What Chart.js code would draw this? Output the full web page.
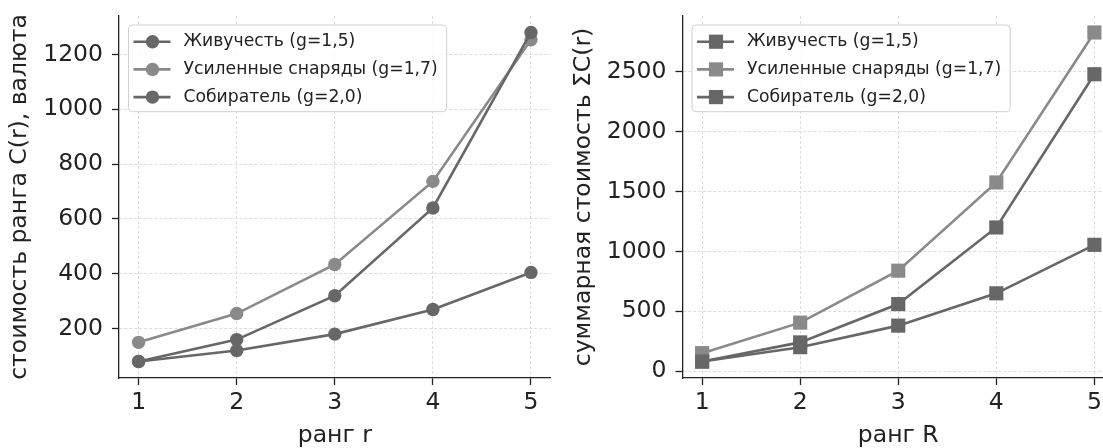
<!DOCTYPE html>
<html><head><meta charset="utf-8">
<script src="https://cdn.jsdelivr.net/npm/chart.js@4/dist/chart.umd.min.js"></script>
<style>
html,body{margin:0;padding:0;background:#fff;overflow:hidden;width:1103px;height:448px;}
#wrap{position:relative;width:1103px;height:448px;overflow:hidden;background:#fff;}
canvas{position:absolute;top:0;}
#c1{left:0;} #c2{left:560px;}
</style></head><body>
<div id="wrap"><canvas id="c1" width="570" height="448"></canvas><canvas id="c2" width="570" height="448"></canvas></div>
<script>
// ---- data ----
const ranks = [1, 2, 3, 4, 5];
const seriesNames = ['Живучесть (g=1,5)', 'Усиленные снаряды (g=1,7)', 'Собиратель (g=2,0)'];
const costSurvival  = [80, 120, 180, 270, 405];
const costShells    = [150, 255, 434, 737, 1253];
const costCollector = [80, 160, 320, 640, 1280];
const cumSurvival   = [80, 200, 380, 650, 1055];
const cumShells     = [150, 405, 839, 1576, 2829];
const cumCollector  = [80, 240, 560, 1200, 2480];
const xTicks = [1, 2, 3, 4, 5];
const leftYTicks  = [200, 400, 600, 800, 1000, 1200];
const rightYTicks = [0, 500, 1000, 1500, 2000, 2500];
const leftXTitle = 'ранг r';
const leftYTitle = 'стоимость ранга C(r), валюта';
const rightXTitle = 'ранг R';
const rightYTitle = 'суммарная стоимость ΣC(r)';

// ---- style ----
const colors = ['#676767', '#8a8a8a', '#676767'];
const FONT = '"DejaVu Sans", "Liberation Sans", sans-serif';
const INK = '#222222';
Chart.defaults.font.family = FONT;
Chart.defaults.color = INK;

const legendBox = {
  id: 'legendBox',
  afterDraw(chart, args, opts) {
    const ctx = chart.ctx, ca = chart.chartArea;
    const fs = opts.fontSize;
    ctx.save();
    ctx.font = fs + 'px ' + FONT;
    const ds = chart.data.datasets;
    const maxW = Math.max(...ds.map(d => ctx.measureText(d.label).width));
    const x0 = ca.left + 9.5, y0 = ca.top + 9;
    const w = 55 + maxW + 9, h = 86.7, r = 4;
    ctx.beginPath();
    ctx.moveTo(x0 + r, y0);
    ctx.arcTo(x0 + w, y0, x0 + w, y0 + h, r);
    ctx.arcTo(x0 + w, y0 + h, x0, y0 + h, r);
    ctx.arcTo(x0, y0 + h, x0, y0, r);
    ctx.arcTo(x0, y0, x0 + w, y0, r);
    ctx.closePath();
    ctx.fillStyle = 'rgba(255,255,255,0.85)';
    ctx.fill();
    ctx.lineWidth = 1;
    ctx.strokeStyle = '#d0d0d0';
    ctx.stroke();
    ds.forEach((d, i) => {
      const cy = y0 + 16.7 + i * 27.7;
      ctx.strokeStyle = d.borderColor;
      ctx.lineWidth = d.borderWidth;
      ctx.beginPath();
      ctx.moveTo(x0 + 5, cy);
      ctx.lineTo(x0 + 42, cy);
      ctx.stroke();
      ctx.fillStyle = d.pointBackgroundColor;
      const mx = x0 + 24;
      if (d.pointStyle === 'rect') {
        const s = Math.SQRT1_2 * d.pointRadius;
        ctx.fillRect(mx - s, cy - s, 2 * s, 2 * s);
      } else {
        ctx.beginPath();
        ctx.arc(mx, cy, d.pointRadius, 0, Math.PI * 2);
        ctx.fill();
      }
      ctx.fillStyle = INK;
      ctx.textBaseline = 'middle';
      ctx.textAlign = 'left';
      ctx.fillText(d.label, x0 + 55, cy);
    });
    ctx.restore();
  }
};

function makeChart(id, cfg) {
  const datasets = cfg.series.map((s, i) => ({
    label: seriesNames[i],
    data: ranks.map((rk, j) => ({ x: rk, y: s[j] })),
    borderColor: colors[i],
    backgroundColor: colors[i],
    pointBackgroundColor: colors[i],
    pointBorderColor: colors[i],
    pointBorderWidth: 0,
    pointRadius: cfg.pointRadius,
    pointHoverRadius: cfg.pointRadius,
    pointStyle: cfg.pointStyle,
    borderWidth: 2.6,
    tension: 0,
    clip: false,
    order: 3 - i
  }));
  const axisCommon = {
    grid: { color: '#dcdcdc', lineWidth: 1, tickLength: 7, tickColor: INK, tickWidth: 1.3 },
    border: { display: true, color: INK, width: 1.3, dash: [3, 2] }
  };
  return new Chart(document.getElementById(id), {
    type: 'line',
    data: { datasets },
    options: {
      responsive: false, animation: false, devicePixelRatio: 1, events: [],
      layout: { padding: { left: 0, top: 16, right: cfg.padRight, bottom: 0 } },
      plugins: { legend: { display: false }, tooltip: { enabled: false }, legendBox: { fontSize: 17.2 } },
      scales: {
        x: Object.assign({}, axisCommon, {
          type: 'linear', min: 0.8, max: 5.2,
          afterBuildTicks: s => { s.ticks = xTicks.map(v => ({ value: v })); },
          afterFit: s => { s.height = 70; s.paddingLeft = 0; s.paddingRight = 0; },
          ticks: { callback: v => String(v), padding: 4, color: INK, font: { size: 23.5 }, maxRotation: 0, autoSkip: false },
          title: { display: true, text: cfg.xTitle, color: INK, font: { size: 23.5 }, padding: { top: 0, bottom: -1.5 } }
        }),
        y: Object.assign({}, axisCommon, {
          type: 'linear', min: cfg.yMin, max: cfg.yMax,
          afterBuildTicks: s => { s.ticks = cfg.yTicks.map(v => ({ value: v })); },
          afterFit: s => { s.width = cfg.yWidth; s.paddingTop = 0; s.paddingBottom = 0; },
          ticks: { callback: v => String(v), padding: 9, color: INK, font: { size: 23.5 }, autoSkip: false },
          title: { display: true, text: cfg.yTitle, color: INK, font: { size: 23.5 }, padding: { top: cfg.yTitlePad, bottom: 0 } }
        })
      }
    },
    plugins: [legendBox]
  });
}

makeChart('c1', {
  series: [costSurvival, costShells, costCollector],
  pointStyle: 'circle', pointRadius: 6.7,
  yMin: 20, yMax: 1340, yTicks: leftYTicks, yWidth: 119, yTitlePad: 6,
  padRight: 19.4, xTitle: leftXTitle, yTitle: leftYTitle
});
makeChart('c2', {
  series: [cumSurvival, cumShells, cumCollector],
  pointStyle: 'rect', pointRadius: 10,
  yMin: -57.45, yMax: 2966.45, yTicks: rightYTicks, yWidth: 122.5, yTitlePad: 9.5,
  padRight: 16, xTitle: rightXTitle, yTitle: rightYTitle
});
</script>
</body></html>
